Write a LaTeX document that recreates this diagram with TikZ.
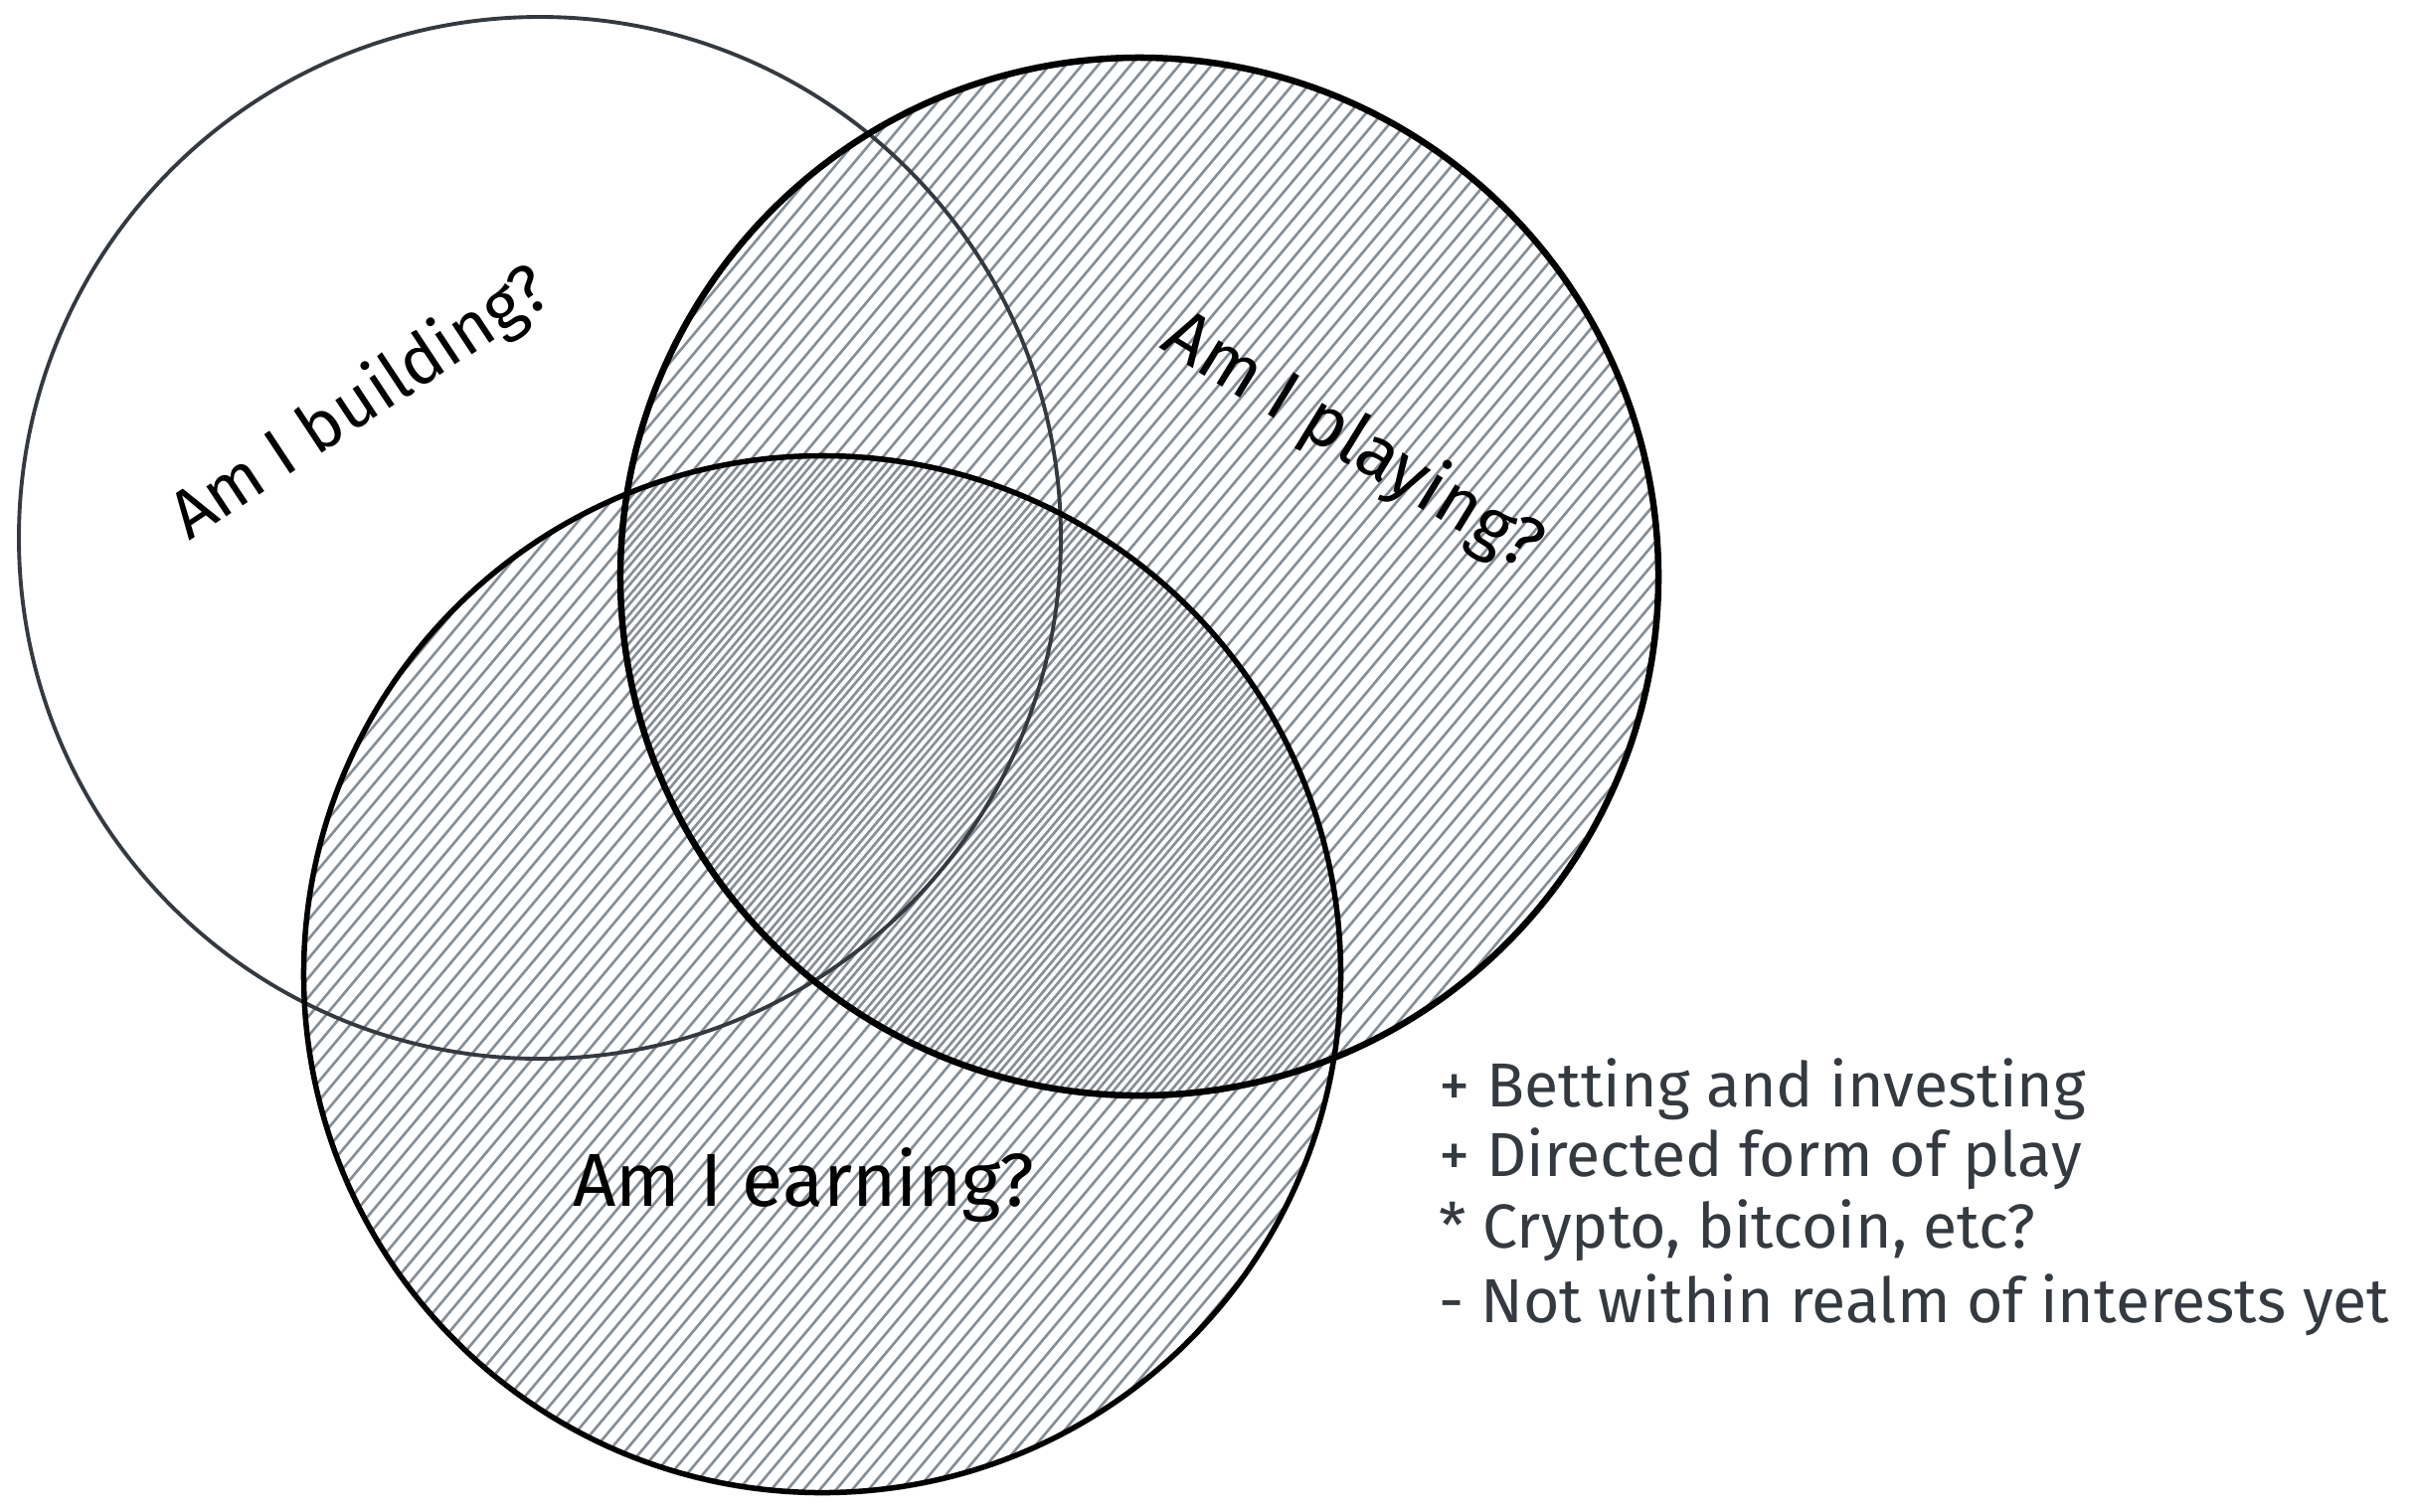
\documentclass[tikz,border=0pt]{standalone}
\usepackage{fontspec}
\setmainfont{Fira Sans}
\definecolor{hatchgray}{HTML}{868E96}
\definecolor{ink}{HTML}{343A40}
\begin{document}
\begin{tikzpicture}[
  hatchline/.style={draw=hatchgray, line width=0.75pt},
  ringbold/.style={draw=black, line width=1.3pt},
  ringsketch/.style={draw=black, line width=0.7pt},
  ringthin/.style={draw=ink, line width=1.1pt},
  qlabel/.style={font=\fontsize{#1}{24}\selectfont, text=black, inner sep=0pt},
  legendtext/.style={font=\fontsize{17.8}{21}\selectfont, text=ink, anchor=west, inner sep=0pt}
]
\useasboundingbox (0,0) rectangle (24.27,-15.20);
\coordinate (cb) at (5.43,-5.41);
\coordinate (cp) at (11.46,-5.80);
\coordinate (ce) at (8.27,-9.80);
% hatching of the playing and earning circles
\foreach \c/\ph in {cp/0.0,ce/0.06} {
  \begin{scope}
    \clip (\c) circle (5.23);
    \begin{scope}[shift={(\c)}, rotate=50]
      \foreach \k in {-45,...,45}
        \draw[hatchline] (-5.6,\k*0.125+\ph) -- (5.6,\k*0.125+\ph);
    \end{scope}
  \end{scope}
}
% outlines
\draw[ringthin] (cb) circle (5.24);
\draw[ringbold] (cp) circle (5.23);
\draw[ringsketch, shift={(0.04,-0.03)}] (cp) circle (5.20);
\draw[ringbold] (ce) circle (5.22);
\draw[ringsketch, shift={(-0.03,0.03)}] (ce) circle (5.20);
% labels
\node[qlabel=19.5, rotate=33.5] (tb) at (3.63,-4.07) {Am I building?};
\node[qlabel=20.5, rotate=-31.5] (tp) at (13.60,-4.45) {Am I playing?};
\node[qlabel=21.5] (te) at (8.08,-11.92) {Am I earning?};
% legend
\node[legendtext] (l1) at (14.47,-10.96) {+ Betting and investing};
\node[legendtext] (l2) at (14.47,-11.66) {+ Directed form of play};
\node[legendtext] (l3) at (14.47,-12.38) {* Crypto, bitcoin, etc?};
\node[legendtext] (l4) at (14.47,-13.13) {- Not within realm of interests yet};
\end{tikzpicture}
\end{document}
